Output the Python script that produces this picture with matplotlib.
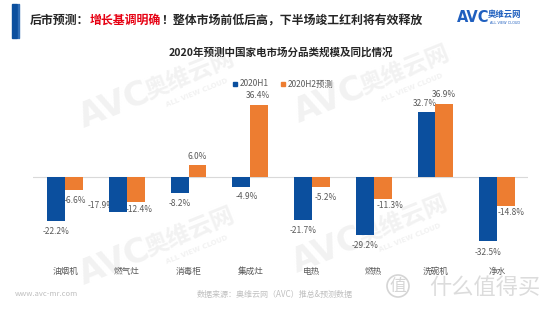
import matplotlib
matplotlib.use('Agg')
import matplotlib.pyplot as plt
from matplotlib.lines import Line2D
import matplotlib.patches as mpatches
import numpy as np

plt.rcParams['font.family'] = ['Noto Sans CJK SC', 'DejaVu Sans']

W, H = 553, 311
BLUE = '#0B4F9E'
ORANGE = '#ED7D31'
GRAY = '#595959'

categories = ['油烟机', '燃气灶', '消毒柜', '集成灶', '电热', '燃热', '洗碗机', '净水']
h1 = [-22.2, -17.9, -8.2, -4.9, -21.7, -29.2, 32.7, -32.5]
h2 = [-6.6, -12.4, 6.0, 36.4, -5.2, -11.3, 36.9, -14.8]
series_names = ['2020H1', '2020H2预测']

# label nudges in pixels (dx, dy)
h1_off = [(0, -11), (-17, 7), (0, -10), (5, -10), (0, -11), (0, -11), (-2, 9), (0, -11)]
h2_off = [(1, -10.5), (3, -7.5), (0, 8.5), (-1, 9), (5, -10.5), (7.5, -6), (0, 9.5), (5, -6.5)]


def fx(px):
    return px / W


def fy(py):
    return 1 - py / H


fig = plt.figure(figsize=(W / 100, H / 100), dpi=100)
fig.patch.set_facecolor('white')

# ---- watermarks (faint, behind everything) ----
WM = '#f2f2f2'
def watermark(x, y):
    fig.text(fx(x), fy(y), 'AVC', fontsize=24, fontweight='bold', color=WM,
             rotation=22, ha='center', va='center', family='DejaVu Sans', zorder=-5)
    fig.text(fx(x + 75), fy(y - 30), '奥维云网', fontsize=17, fontweight='bold', color=WM,
             rotation=22, ha='center', va='center', zorder=-5)
    fig.text(fx(x + 82), fy(y - 12), 'ALL VIEW CLOUD', fontsize=5, fontweight='bold',
             color=WM, rotation=22, ha='center', va='center', family='DejaVu Sans', zorder=-5)

watermark(115, 105)
watermark(330, 100)
watermark(115, 262)
watermark(328, 250)

# ---- axes ----
ax = fig.add_axes([fx(33), fy(244.3), fx(495), (244.3 - 93.8) / H])
ax.set_facecolor('none')
ax.set_zorder(2)
x = np.arange(len(categories))
bw = 0.29
ax.bar(x - bw / 2, h1, bw, color=BLUE, zorder=3)
ax.bar(x + bw / 2, h2, bw, color=ORANGE, zorder=3)
ax.axhline(0, color='#d9d9d9', lw=0.8, zorder=1)
ax.set_xlim(-0.52, 7.5)
ax.set_ylim(-34, 42)
for s in ax.spines.values():
    s.set_visible(False)
ax.set_yticks([])
ax.set_xticks(x)
ax.set_xticklabels(categories, fontsize=6.2, color=GRAY)
ax.tick_params(axis='x', length=0, pad=16)

for vals, offs, sgn in ((h1, h1_off, -1), (h2, h2_off, 1)):
    for i, (v, (dx, dy)) in enumerate(zip(vals, offs)):
        ax.annotate(f'{v:.1f}%', xy=(i + sgn * bw / 2, v), xytext=(dx, dy),
                    textcoords='offset pixels', ha='center', va='center',
                    fontsize=6, color=GRAY, zorder=2)

handles = [Line2D([], [], marker='s', ls='', color=BLUE, markersize=3.5),
           Line2D([], [], marker='s', ls='', color=ORANGE, markersize=3.5)]
fig.legend(handles, series_names, loc='center', bbox_to_anchor=(fx(282), fy(84)), ncol=2,
           frameon=False, fontsize=6, handletextpad=0.1, columnspacing=1.2,
           labelcolor=GRAY, handlelength=1)

# ---- title ----
fig.text(fx(281), fy(52), '2020年预测中国家电市场分品类规模及同比情况', fontsize=7.6,
         fontweight='bold', color='#262626', ha='center', va='center')

# ---- header ----
fig.patches.append(mpatches.Rectangle((fx(12), fy(38)), fx(5), 34 / H, transform=fig.transFigure,
                                      color='#0B4F9E', zorder=5))
fig.patches.append(mpatches.Rectangle((fx(18), fy(38)), fx(1.2), 34 / H, transform=fig.transFigure,
                                      color='#2F6DB5', zorder=5))

parts = [('后市预测：', '#262626'), ('增长基调明确', '#E60012'),
         ('！整体市场前低后高，下半场竣工红利将有效释放', '#262626')]
fig.canvas.draw()
renderer = fig.canvas.get_renderer()
cx = 30
for txt, col in parts:
    t = fig.text(fx(cx), fy(20), txt, fontsize=8.6, fontweight='bold', color=col,
                 ha='left', va='center')
    cx += t.get_window_extent(renderer).width

fig.text(fx(473), fy(17), 'AVC', fontsize=10.5, fontweight='bold', color='#1F5FBF',
         ha='center', va='center', family='DejaVu Sans')
fig.text(fx(505), fy(15), '奥维云网', fontsize=6, fontweight='bold', color='#1F5FBF',
         ha='center', va='center')
fig.text(fx(505), fy(23), 'ALL VIEW CLOUD', fontsize=2.5, color='#1F5FBF',
         ha='center', va='center', family='DejaVu Sans')

# ---- footer ----
fig.text(fx(15), fy(294), 'www.avc-mr.com', fontsize=5.5, color='#bfbfbf', ha='left', va='center')
fig.text(fx(197), fy(294), '数据来源：奥维云网（AVC）推总&预测数据', fontsize=5.8, color='#bfbfbf',
         ha='left', va='center')
fig.text(fx(398), fy(286), '值', fontsize=12, color='#d5d5d5', ha='center', va='center',
         bbox=dict(boxstyle='circle,pad=0.15', fc='none', ec='#d5d5d5', lw=1.2))
fig.text(fx(485), fy(287), '什么值得买', fontsize=16, color='#dcdcdc', ha='center', va='center',
         fontweight='light')

fig.savefig('out.png', dpi=100)
